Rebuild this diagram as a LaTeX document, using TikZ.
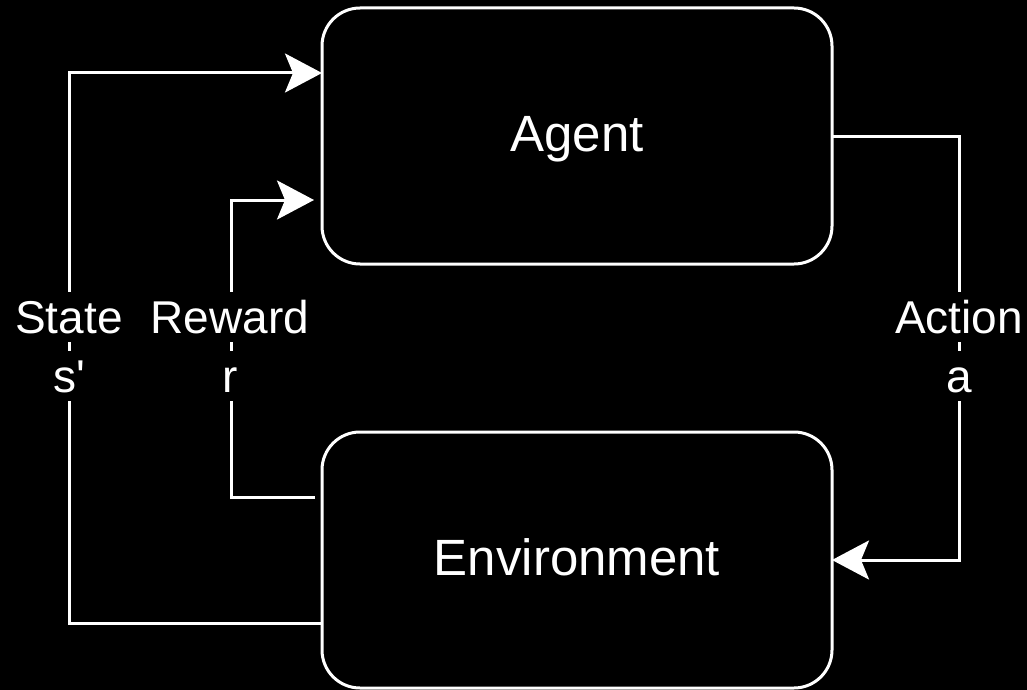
\documentclass[tikz,border=0pt]{standalone}
\usepackage{fontspec}
\setmainfont{Liberation Sans}
\usetikzlibrary{arrows.meta}
\begin{document}
\begin{tikzpicture}[x=1pt,y=-1pt,
 box/.style={draw=white, line width=3pt, fill=black, rounded corners=38pt, minimum width=510pt, minimum height=256pt, inner sep=0pt, outer sep=0pt, text=white, font=\fontsize{51}{61}\selectfont, text height=31pt, text depth=0pt},
 lbl/.style={fill=black, text=white, inner sep=0pt, font=\fontsize{46}{55}\selectfont, text height=41pt, text depth=9pt, anchor=base},
 conn/.style={draw=white, line width=3pt},
 arr/.style={conn, -{Stealth[length=37pt, width=39pt, inset=8pt]}}
]
\fill[black] (0,0) rectangle (1027,690);
\useasboundingbox (0,0) rectangle (1027,690);
\node[box] (agent) at (577,136) {Agent};
\node[box] (env) at (577,560) {Environment};
% State
\draw[arr] ([yshift=-63pt]env.west) -- ++(-253,0) |- ([yshift=63pt]agent.west);
% Reward
\draw[arr] ([xshift=-7pt,yshift=63pt]env.west) -- ++(-84,0) |- ([xshift=-8pt,yshift=-64pt]agent.west);
% Action
\draw[arr] (agent.east) -- ++(127,0) |- (env.east);
% labels
\node[lbl] (stateL) at (69,333) {State};
\node[lbl] (stateV) at (69,392) {s\textquotesingle};
\node[lbl] (rewardL) at (230,333) {Reward};
\node[lbl] (rewardV) at (230,392) {r};
\node[lbl] (actionL) at (959,333) {Action};
\node[lbl] (actionV) at (959,392) {a};
\end{tikzpicture}
\end{document}
